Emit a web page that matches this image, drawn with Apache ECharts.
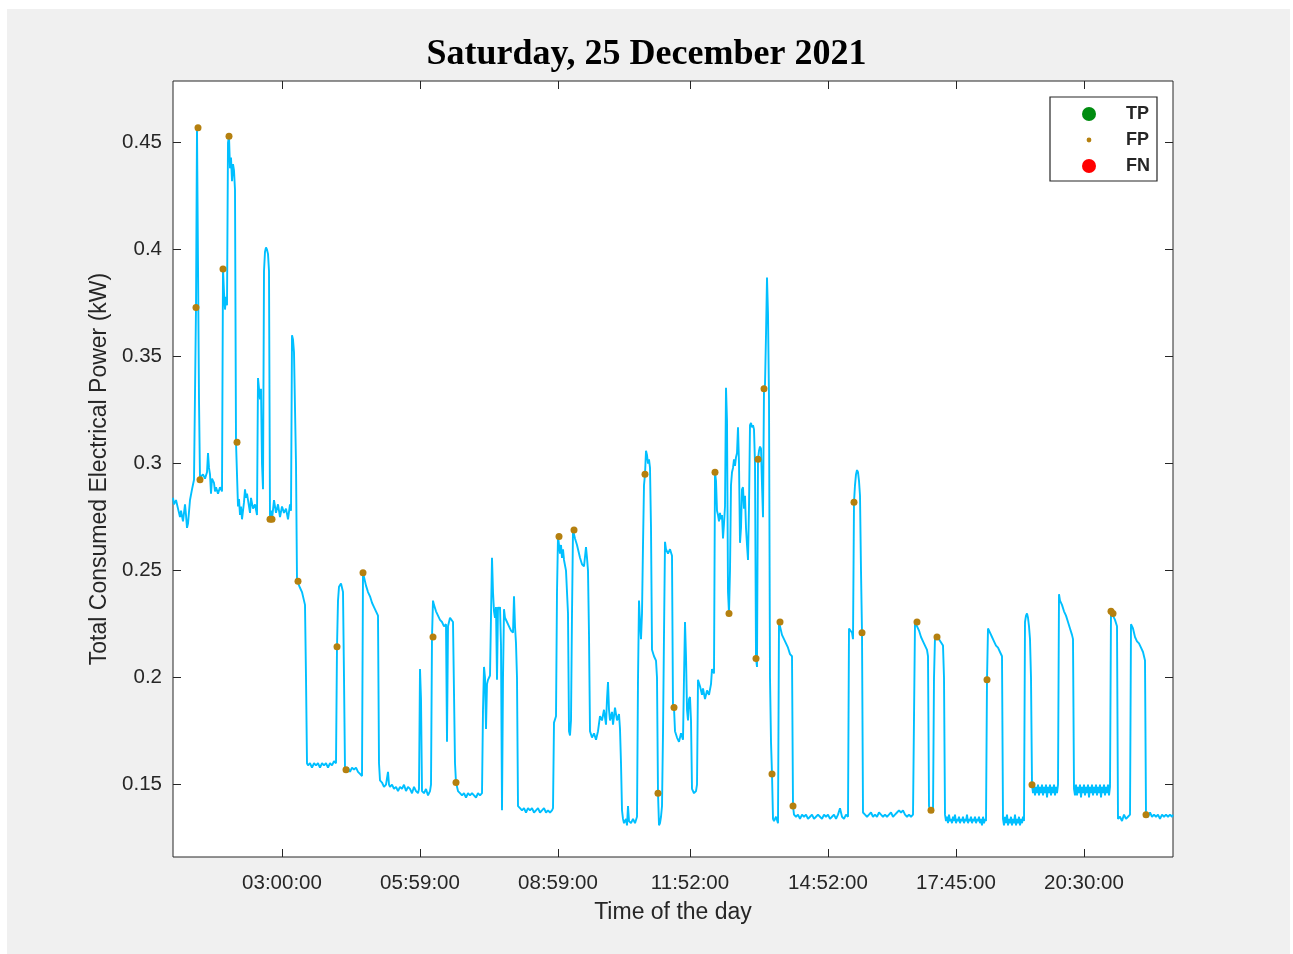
<!DOCTYPE html>
<html>
<head>
<meta charset="utf-8">
<script src="https://cdn.jsdelivr.net/npm/echarts@6/dist/echarts.min.js"></script>
<style>
html,body{margin:0;padding:0;background:#ffffff;}
#bg{position:absolute;left:7px;top:9px;width:1283px;height:945px;background:#f0f0f0;}
#chart{position:absolute;left:0;top:0;width:1293px;height:954px;}
</style>
</head>
<body>
<div id="bg"></div>
<div id="chart"></div>
<script>
// ---- data (x = sample index along the day, y = kW) ----
const chartTitle = 'Saturday, 25 December 2021';
const xTickIndex = [109, 247, 385, 517, 655, 783, 911];
const xTickLabels = ['03:00:00', '05:59:00', '08:59:00', '11:52:00', '14:52:00', '17:45:00', '20:30:00'];
const yTickValues = [0.15, 0.2, 0.25, 0.3, 0.35, 0.4, 0.45];

const powerTrace = [
[0,0.284],[1,0.281],[3,0.283],[5,0.279],[7,0.275],[8,0.278],[10,0.273],[12,0.281],[13,0.276],[14,0.270],[15,0.272],[17,0.283],[19,0.288],[21,0.2925],[22,0.292],
[23,0.373],[24,0.457],[25,0.457],[26,0.33],[27,0.2925],[28,0.294],[30,0.295],[32,0.293],[34,0.296],[35,0.305],[36,0.298],[37,0.295],[38,0.286],[39,0.293],[41,0.291],[42,0.287],[43,0.289],[45,0.286],[47,0.289],[49,0.287],
[50,0.391],[51,0.380],[52,0.372],[53,0.378],[54,0.374],[55,0.45],[56,0.453],[57,0.438],[58,0.443],[59,0.432],[60,0.440],[61,0.437],[62,0.428],[63,0.31],[64,0.31],
[65,0.28],[66,0.2835],[67,0.276],[68,0.280],[69,0.274],[71,0.282],[72,0.288],[73,0.284],[74,0.286],[76,0.280],[77,0.277],[78,0.284],[80,0.279],[82,0.281],[84,0.276],
[85,0.34],[86,0.335],[87,0.33],[88,0.335],[89,0.30],[90,0.288],[91,0.39],[92,0.399],[93,0.401],[94,0.400],[95,0.398],[96,0.39],
[97,0.274],[98,0.278],[99,0.274],[101,0.283],[103,0.277],[105,0.281],[107,0.275],[109,0.280],[111,0.277],[113,0.279],[115,0.274],[117,0.281],[118,0.278],
[119,0.360],[120,0.358],[121,0.352],[122,0.352],[123,0.30],[124,0.2455],[125,0.245],[127,0.242],[129,0.240],[131,0.236],[132,0.234],[133,0.20],
[134,0.160],[135,0.159],[137,0.160],[139,0.158],[141,0.160],[143,0.159],[145,0.160],[147,0.158],[149,0.160],[151,0.159],[153,0.160],[155,0.158],[157,0.160],[159,0.159],[161,0.161],[163,0.160],
[164,0.2145],[165,0.236],[166,0.2425],[167,0.243],[168,0.244],[169,0.242],[170,0.240],[171,0.20],
[172,0.157],[173,0.157],[175,0.158],[177,0.156],[179,0.158],[181,0.157],[183,0.158],[185,0.156],[187,0.155],[189,0.154],
[190,0.249],[191,0.249],[193,0.243],[195,0.240],[197,0.238],[199,0.235],[201,0.233],[203,0.231],[205,0.229],[206,0.16],
[207,0.152],[209,0.151],[211,0.149],[213,0.150],[215,0.156],[216,0.150],[217,0.149],[219,0.150],[221,0.148],[223,0.149],[225,0.147],[227,0.149],[229,0.148],[231,0.150],[233,0.147],[235,0.149],[237,0.148],[239,0.146],[241,0.149],[243,0.147],[245,0.146],[246,0.148],
[247,0.204],[248,0.190],[249,0.147],[251,0.146],[253,0.148],[255,0.145],[257,0.147],[258,0.150],
[259,0.219],[260,0.236],[261,0.234],[263,0.231],[265,0.229],[267,0.227],[269,0.226],[271,0.224],[273,0.225],[274,0.170],[275,0.224],[277,0.228],[279,0.228],[280,0.226],[282,0.160],
[283,0.151],[285,0.147],[287,0.146],[289,0.145],[291,0.146],[293,0.144],[295,0.146],[297,0.145],[299,0.146],[301,0.145],[303,0.144],[305,0.146],[307,0.145],[309,0.146],
[310,0.185],[311,0.205],[312,0.200],[313,0.176],[314,0.197],[315,0.199],[317,0.201],[319,0.256],[320,0.240],[321,0.231],[322,0.228],[323,0.233],[324,0.199],[325,0.233],[326,0.232],[327,0.233],[328,0.215],[329,0.138],[330,0.200],[331,0.232],[332,0.228],[334,0.226],[336,0.224],[338,0.222],[340,0.221],[341,0.238],[342,0.224],[343,0.216],[344,0.200],
[345,0.140],[347,0.139],[349,0.138],[351,0.139],[353,0.137],[355,0.139],[357,0.138],[359,0.139],[361,0.137],[363,0.138],[365,0.139],[367,0.137],[369,0.138],[371,0.139],[373,0.137],[375,0.138],[377,0.137],[379,0.138],[380,0.139],
[381,0.179],[383,0.182],[384,0.240],[385,0.266],[386,0.266],[387,0.258],[388,0.262],[389,0.256],[390,0.260],[391,0.255],[393,0.250],[395,0.230],[396,0.175],[397,0.173],[398,0.180],[399,0.230],
[400,0.269],[401,0.269],[402,0.265],[404,0.262],[406,0.258],[407,0.256],[409,0.253],[411,0.252],[413,0.261],[414,0.256],[415,0.250],[416,0.220],
[417,0.175],[419,0.172],[421,0.174],[423,0.171],[425,0.175],[427,0.182],[429,0.180],[431,0.185],[433,0.178],[434,0.190],[435,0.198],[436,0.185],[437,0.180],[439,0.184],[440,0.178],[442,0.186],[444,0.180],[446,0.183],[447,0.176],[448,0.160],
[449,0.138],[450,0.134],[451,0.132],[453,0.134],[454,0.131],[455,0.140],[456,0.133],[458,0.132],[460,0.134],[462,0.132],[464,0.135],
[465,0.199],[466,0.236],[467,0.226],[468,0.218],[469,0.230],[470,0.262],[471,0.290],[472,0.295],[473,0.306],[474,0.304],[475,0.300],[476,0.302],[477,0.298],[478,0.270],[479,0.213],[481,0.210],[483,0.208],[484,0.200],
[485,0.146],[486,0.131],[487,0.132],[488,0.135],[489,0.140],[490,0.174],[491,0.220],[492,0.2635],[493,0.260],[495,0.258],[497,0.260],[499,0.257],[500,0.185],[501,0.186],[502,0.175],[504,0.172],[506,0.170],[508,0.174],[510,0.171],
[511,0.200],[512,0.226],[513,0.210],[514,0.185],[515,0.180],[516,0.190],[517,0.191],[518,0.180],[519,0.148],[521,0.146],[523,0.147],[524,0.150],
[525,0.199],[527,0.196],[529,0.192],[530,0.195],[532,0.190],[534,0.194],[536,0.192],[538,0.197],[539,0.204],[541,0.202],
[542,0.296],[543,0.292],[544,0.278],[545,0.276],[546,0.273],[547,0.277],[548,0.274],[549,0.276],[550,0.265],[551,0.272],[552,0.280],[553,0.3355],[554,0.320],[555,0.240],[556,0.230],[557,0.250],[558,0.290],[559,0.296],[560,0.298],[561,0.302],[562,0.299],[563,0.303],[564,0.305],[565,0.317],[566,0.300],[567,0.263],[568,0.270],[569,0.288],[570,0.289],[571,0.279],[572,0.285],[573,0.270],[574,0.262],[575,0.255],[576,0.280],
[577,0.318],[578,0.319],[579,0.317],[580,0.318],[581,0.316],[582,0.300],[583,0.209],[584,0.205],[585,0.302],[586,0.306],[587,0.308],[588,0.307],[589,0.290],[590,0.275],[591,0.335],[592,0.337],[593,0.360],[594,0.387],[595,0.370],[596,0.330],[597,0.200],[598,0.170],[599,0.155],
[600,0.134],[601,0.133],[603,0.135],[605,0.132],[606,0.226],[607,0.226],[609,0.220],[611,0.218],[613,0.216],[615,0.214],[617,0.211],[619,0.210],
[620,0.140],[621,0.136],[623,0.135],[625,0.136],[627,0.134],[629,0.136],[631,0.135],[633,0.136],[635,0.134],[637,0.135],[639,0.136],[641,0.134],[643,0.135],[645,0.136],[647,0.135],[649,0.134],[651,0.136],[653,0.135],[655,0.136],[657,0.134],[659,0.135],[661,0.136],[663,0.134],[665,0.136],[667,0.139],[669,0.135],[671,0.134],[673,0.136],[675,0.135],
[676,0.223],[677,0.223],[679,0.221],[680,0.218],[681,0.282],[682,0.290],[683,0.295],[684,0.297],[685,0.296],[686,0.292],[687,0.285],[688,0.250],[689,0.221],
[690,0.137],[692,0.136],[694,0.135],[696,0.136],[698,0.137],[700,0.135],[702,0.136],[704,0.135],[706,0.137],[708,0.136],[710,0.135],[712,0.136],[714,0.135],[716,0.136],[718,0.137],[720,0.135],[722,0.136],[724,0.137],[726,0.138],[728,0.137],[730,0.138],[732,0.136],[734,0.135],[736,0.136],[738,0.135],[740,0.136],[741,0.136],
[742,0.226],[744,0.226],[746,0.222],[748,0.219],[750,0.217],[752,0.215],[754,0.213],[755,0.210],[756,0.140],[757,0.138],[758,0.138],[760,0.137],
[761,0.200],[762,0.219],[763,0.219],[764,0.219],[766,0.218],[768,0.218],[770,0.215],[771,0.200],
[772,0.136],[773,0.133],[774,0.135],[775,0.132],[776,0.136],[777,0.133],[778,0.134],[779,0.132],[780,0.135],[781,0.133],[782,0.136],[783,0.132],[784,0.134],[785,0.133],[786,0.135],[787,0.132],[788,0.134],[789,0.133],[790,0.135],[791,0.132],[792,0.134],[793,0.133],[794,0.136],[795,0.132],[796,0.134],[797,0.133],[798,0.135],[799,0.132],[800,0.134],[801,0.133],[802,0.135],[803,0.132],[804,0.134],[805,0.133],[806,0.135],[807,0.132],[808,0.134],[809,0.131],[810,0.135],[811,0.132],[812,0.134],[813,0.133],
[814,0.199],[815,0.223],[817,0.221],[819,0.219],[821,0.217],[823,0.215],[825,0.214],[827,0.212],[829,0.210],
[830,0.134],[831,0.131],[832,0.135],[833,0.132],[834,0.136],[835,0.131],[836,0.134],[837,0.132],[838,0.135],[839,0.131],[840,0.134],[841,0.132],[842,0.136],[843,0.131],[844,0.134],[845,0.132],[846,0.135],[847,0.131],[848,0.134],[849,0.132],[850,0.135],[851,0.133],
[852,0.226],[853,0.229],[854,0.230],[855,0.228],[856,0.224],[857,0.218],[858,0.200],
[859,0.150],[860,0.146],[861,0.150],[862,0.145],[863,0.149],[864,0.146],[865,0.150],[866,0.145],[867,0.149],[868,0.146],[869,0.150],[870,0.145],[871,0.149],[872,0.146],[873,0.150],[874,0.144],[875,0.149],[876,0.146],[877,0.150],[878,0.145],[879,0.149],[880,0.146],[881,0.150],[882,0.145],[883,0.149],[884,0.146],[885,0.150],
[886,0.239],[887,0.236],[889,0.234],[891,0.231],[893,0.229],[895,0.226],[897,0.223],[899,0.220],[900,0.218],
[901,0.148],[902,0.145],[903,0.150],[904,0.145],[905,0.149],[906,0.146],[907,0.150],[908,0.144],[909,0.149],[910,0.146],[911,0.150],[912,0.145],[913,0.149],[914,0.146],[915,0.150],[916,0.144],[917,0.149],[918,0.146],[919,0.150],[920,0.145],[921,0.149],[922,0.146],[923,0.150],[924,0.145],[925,0.149],[926,0.146],[927,0.150],[928,0.144],[929,0.149],[930,0.146],[931,0.150],[932,0.145],[933,0.149],[934,0.146],[935,0.150],[936,0.145],[937,0.149],
[938,0.231],[939,0.231],[940,0.229],[942,0.227],[944,0.224],[945,0.134],[947,0.135],[949,0.133],[951,0.136],[953,0.134],[955,0.135],[957,0.136],
[958,0.225],[960,0.223],[962,0.219],[964,0.217],[966,0.216],[968,0.214],[970,0.212],[972,0.208],
[973,0.136],[975,0.135],[977,0.137],[979,0.135],[981,0.136],[983,0.135],[985,0.136],[987,0.134],[989,0.136],[991,0.135],[993,0.136],[995,0.135],[997,0.136],[999,0.135],[1000,0.136]
];

const fpPoints = [
[23,0.373],[25,0.457],[27,0.2925],[50,0.391],[56,0.453],[64,0.310],[97,0.274],[99,0.274],[125,0.245],[164,0.2145],[173,0.157],[190,0.249],
[260,0.219],[283,0.151],[386,0.266],[401,0.269],[472,0.295],[485,0.146],[501,0.186],[542,0.296],[556,0.230],[583,0.209],[585,0.302],[591,0.335],
[599,0.155],[607,0.226],[620,0.140],[681,0.282],[689,0.221],[744,0.226],[758,0.138],[764,0.219],[814,0.199],[859,0.150],[938,0.231],[940,0.230],[973,0.136]
];
const tpPoints = [];
const fnPoints = [];

// ---- chart ----
const axisColor = '#262626';
const sans = '"Liberation Sans", Arial, Helvetica, sans-serif';
const chart = echarts.init(document.getElementById('chart'), null, {renderer: 'canvas'});
const yMin = 0.1162, yMax = 0.4788;
const xMin = 0, xMax = 1000;

const fpIcon = 'path://M0,0M14,14M4.6,7a2.4,2.4 0 1,0 4.8,0a2.4,2.4 0 1,0 -4.8,0z';
const noLine = {show: false, onZero: false};

chart.setOption({
  animation: false,
  backgroundColor: 'transparent',
  title: {
    text: chartTitle,
    left: 'center',
    top: 32,
    textStyle: {fontFamily: '"Liberation Serif", "Times New Roman", serif', fontSize: 36, fontWeight: 'bold', color: '#000'}
  },
  grid: {
    left: 173, right: 120, top: 81, bottom: 97,
    show: true, backgroundColor: '#ffffff', borderColor: axisColor, borderWidth: 1,
    outerBoundsMode: 'none'
  },
  legend: {
    orient: 'vertical',
    left: 1050, top: 97,
    padding: [8, 7, 6, 32],
    itemGap: 8,
    itemWidth: 14, itemHeight: 14,
    backgroundColor: '#ffffff',
    borderColor: axisColor, borderWidth: 1.2, borderRadius: 0,
    selectedMode: false,
    textStyle: {fontFamily: sans, fontSize: 18, fontWeight: 'bold', color: axisColor, padding: [0, 0, 0, 25]},
    data: [
      {name: 'TP', icon: 'circle'},
      {name: 'FP', icon: fpIcon},
      {name: 'FN', icon: 'circle'}
    ]
  },
  xAxis: [{
    type: 'value', min: xMin, max: xMax, position: 'bottom',
    name: 'Time of the day', nameLocation: 'middle', nameGap: 44,
    nameTextStyle: {fontFamily: sans, fontSize: 23, color: axisColor},
    axisLine: noLine,
    splitLine: {show: false},
    axisTick: {show: true, inside: true, length: 8, customValues: xTickIndex, lineStyle: {color: axisColor, width: 1}},
    axisLabel: {
      show: true, margin: 16, customValues: xTickIndex,
      fontFamily: sans, fontSize: 20.5, color: axisColor,
      formatter: function (v) { const i = xTickIndex.indexOf(v); return i >= 0 ? xTickLabels[i] : ''; }
    }
  }, {
    type: 'value', min: xMin, max: xMax, position: 'top',
    axisLine: noLine, splitLine: {show: false},
    axisTick: {show: true, inside: true, length: 8, customValues: xTickIndex, lineStyle: {color: axisColor, width: 1}},
    axisLabel: {show: false}
  }],
  yAxis: [{
    type: 'value', min: yMin, max: yMax, position: 'left',
    name: 'Total Consumed Electrical Power (kW)', nameLocation: 'middle', nameGap: 55,
    nameTextStyle: {fontFamily: sans, fontSize: 23, color: axisColor},
    axisLine: noLine, splitLine: {show: false},
    axisTick: {show: true, inside: true, length: 8, customValues: yTickValues, lineStyle: {color: axisColor, width: 1}},
    axisLabel: {
      show: true, margin: 11, customValues: yTickValues,
      fontFamily: sans, fontSize: 20.5, color: axisColor,
      formatter: function (v) { return String(Math.round(v * 100) / 100); }
    }
  }, {
    type: 'value', min: yMin, max: yMax, position: 'right',
    axisLine: noLine, splitLine: {show: false},
    axisTick: {show: true, inside: true, length: 8, customValues: yTickValues, lineStyle: {color: axisColor, width: 1}},
    axisLabel: {show: false}
  }],
  series: [{
    name: 'Power', type: 'line', xAxisIndex: 0, yAxisIndex: 0,
    data: powerTrace, showSymbol: false, symbol: 'none', sampling: null,
    lineStyle: {color: '#00BFFF', width: 1.9}, z: 2
  }, {
    name: 'TP', type: 'scatter', data: tpPoints, symbol: 'circle', symbolSize: 13,
    itemStyle: {color: '#008C10', opacity: 1}, z: 3
  }, {
    name: 'FP', type: 'scatter', data: fpPoints, symbol: 'circle', symbolSize: 7,
    itemStyle: {color: '#B5800F', opacity: 1}, z: 4
  }, {
    name: 'FN', type: 'scatter', data: fnPoints, symbol: 'circle', symbolSize: 13,
    itemStyle: {color: '#FF0000', opacity: 1}, z: 3
  }]
});
</script>
</body>
</html>
